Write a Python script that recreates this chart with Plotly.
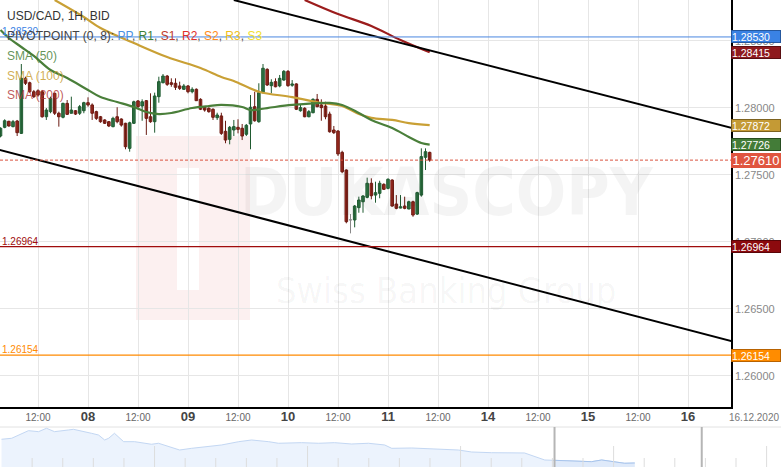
import plotly.graph_objects as go

FONT = "Liberation Sans, Arial, sans-serif"
W, H = 781, 467
PLOT_R = 731      # right edge of main plot (px)
PLOT_B = 407      # bottom edge of main plot (px)

# ---------------- data ----------------
# hourly candles, x = hours from 08.12.2020 00:00 (weekend removed)
hours = list(range(-21, 83))
opens = [1.27790, 1.27855, 1.27900, 1.27860, 1.27902, 1.27810, 1.28221, 1.28188, 1.28121, 1.28128,
         1.28121, 1.27934, 1.27972, 1.28109, 1.27960, 1.27930, 1.28034, 1.27960, 1.27979, 1.27960,
         1.27979, 1.28039, 1.28022, 1.27972, 1.27934, 1.27910, 1.27897, 1.27860, 1.27934, 1.27917,
         1.27885, 1.27698, 1.27885, 1.28052, 1.28014, 1.28054, 1.27934, 1.27897, 1.28084, 1.28188,
         1.28238, 1.28188, 1.28184, 1.28164, 1.28139, 1.28164, 1.28121, 1.28139, 1.28064, 1.28005,
         1.27997, 1.27990, 1.27927, 1.27940, 1.27825, 1.27765, 1.27835, 1.27855, 1.27848, 1.27803,
         1.27880, 1.28009, 1.27897, 1.28114, 1.28288, 1.28166, 1.28196, 1.28164, 1.28208, 1.28273,
         1.28169, 1.28179, 1.27979, 1.27997, 1.27934, 1.27964, 1.28064, 1.28022, 1.28014, 1.27954,
         1.27835, 1.27827, 1.27668, 1.27536, 1.27163, 1.27163, 1.27255, 1.27299, 1.27332, 1.27437,
         1.27349, 1.27362, 1.27429, 1.27399, 1.27461, 1.27282, 1.27252, 1.27267, 1.27245, 1.27299,
         1.27207, 1.27349, 1.27631, 1.27668]
highs = [1.27855, 1.27915, 1.27904, 1.27910, 1.27910, 1.28328, 1.28233, 1.28196, 1.28134, 1.28139,
         1.28134, 1.27999, 1.28084, 1.28114, 1.27972, 1.28039, 1.28059, 1.28084, 1.27984, 1.28022,
         1.28046, 1.28079, 1.28034, 1.27979, 1.27940, 1.27915, 1.27902, 1.27934, 1.28005, 1.27922,
         1.27889, 1.27897, 1.28054, 1.28059, 1.28064, 1.28059, 1.28109, 1.28114, 1.28233, 1.28253,
         1.28246, 1.28221, 1.28221, 1.28196, 1.28179, 1.28171, 1.28154, 1.28146, 1.28072, 1.28014,
         1.28005, 1.27997, 1.27964, 1.27964, 1.27904, 1.27865, 1.27910, 1.27915, 1.27880, 1.27880,
         1.28096, 1.28121, 1.28184, 1.28328, 1.28296, 1.28214, 1.28221, 1.28246, 1.28283, 1.28283,
         1.28208, 1.28184, 1.28022, 1.28005, 1.27984, 1.28072, 1.28104, 1.28064, 1.28046, 1.27972,
         1.27865, 1.27835, 1.27680, 1.27541, 1.27207, 1.27275, 1.27337, 1.27349, 1.27479, 1.27474,
         1.27449, 1.27456, 1.27437, 1.27474, 1.27467, 1.27349, 1.27349, 1.27337, 1.27307, 1.27307,
         1.27374, 1.27698, 1.27698, 1.27673]
lows = [1.27780, 1.27848, 1.27860, 1.27855, 1.27790, 1.27805, 1.28171, 1.28114, 1.28074, 1.28084,
        1.27927, 1.27910, 1.27960, 1.27947, 1.27860, 1.27922, 1.27947, 1.27960, 1.27947, 1.27947,
        1.27960, 1.28009, 1.27910, 1.27910, 1.27889, 1.27880, 1.27857, 1.27855, 1.27885, 1.27860,
        1.27691, 1.27673, 1.27880, 1.27990, 1.27904, 1.27798, 1.27889, 1.27815, 1.28039, 1.28184,
        1.28164, 1.28158, 1.28134, 1.28134, 1.28134, 1.28109, 1.28109, 1.28052, 1.27984, 1.27972,
        1.27964, 1.27910, 1.27910, 1.27798, 1.27736, 1.27728, 1.27790, 1.27810, 1.27760, 1.27790,
        1.27691, 1.27897, 1.27889, 1.28109, 1.28164, 1.28109, 1.28154, 1.28154, 1.28203, 1.28158,
        1.28158, 1.27984, 1.27972, 1.27930, 1.27930, 1.27960, 1.28005, 1.27904, 1.27915, 1.27815,
        1.27805, 1.27641, 1.27512, 1.27138, 1.27063, 1.27108, 1.27217, 1.27217, 1.27325, 1.27317,
        1.27292, 1.27325, 1.27387, 1.27392, 1.27262, 1.27243, 1.27250, 1.27243, 1.27243, 1.27187,
        1.27200, 1.27337, 1.27536, 1.27598]
closes = [1.27848, 1.27904, 1.27865, 1.27897, 1.27815, 1.28221, 1.28184, 1.28121, 1.28084, 1.28096,
          1.27934, 1.27984, 1.28072, 1.27960, 1.27934, 1.28034, 1.27952, 1.27984, 1.27954, 1.28009,
          1.28039, 1.28022, 1.27960, 1.27922, 1.27897, 1.27885, 1.27865, 1.27922, 1.27897, 1.27872,
          1.27710, 1.27889, 1.28046, 1.28009, 1.28046, 1.27922, 1.27897, 1.28089, 1.28196, 1.28238,
          1.28176, 1.28176, 1.28154, 1.28146, 1.28164, 1.28121, 1.28139, 1.28054, 1.27990, 1.27984,
          1.27972, 1.27930, 1.27947, 1.27810, 1.27760, 1.27855, 1.27860, 1.27840, 1.27790, 1.27870,
          1.28005, 1.27904, 1.28114, 1.28296, 1.28171, 1.28191, 1.28158, 1.28221, 1.28273, 1.28166,
          1.28179, 1.27990, 1.28002, 1.27934, 1.27972, 1.28064, 1.28009, 1.28002, 1.27934, 1.27822,
          1.27815, 1.27656, 1.27523, 1.27150, 1.27163, 1.27267, 1.27312, 1.27342, 1.27437, 1.27344,
          1.27367, 1.27437, 1.27392, 1.27467, 1.27267, 1.27250, 1.27262, 1.27250, 1.27299, 1.27200,
          1.27367, 1.27636, 1.27673, 1.27610]

sma50_t = [-21, -19, -16, -13, -9, -5, 0, 3, 7, 11, 14, 17, 20, 25, 29, 32, 37, 39, 43, 49,
           58, 61, 65, 68, 73, 77, 80, 82]
sma50_v = [1.28582, 1.28522, 1.28455, 1.28388, 1.28283, 1.28223, 1.28134, 1.28081, 1.28044, 1.28007,
           1.27969, 1.27954, 1.27962, 1.27999, 1.28014, 1.28022, 1.28007, 1.27984, 1.27999, 1.28022,
           1.28037, 1.28022, 1.27962, 1.27910, 1.27850, 1.27783, 1.27738, 1.27726]
sma100_t = [-8, -1, 3, 11, 19, 27, 32, 35, 41, 49, 56, 61, 65, 68, 73, 77, 82]
sma100_v = [1.28806, 1.28679, 1.28597, 1.28485, 1.28380, 1.28298, 1.28231, 1.28201, 1.28121, 1.28081,
            1.28037, 1.28014, 1.27954, 1.27925, 1.27910, 1.27887, 1.27872]
sma200_t = [52, 60, 68, 75, 82]
sma200_v = [1.28806, 1.28701, 1.28612, 1.28507, 1.28415]

channel_upper_t = [35, 155]
channel_upper_v = [1.28806, 1.27846]
channel_lower_t = [-22, 155]
channel_lower_v = [1.27693, 1.26253]

pivot_pp, pivot_s1, pivot_s2 = 1.28530, 1.26964, 1.26154
last_price = 1.27610

x_tickvals = [-12, 0, 12, 24, 36, 48, 60, 72, 84, 96, 108, 120, 132, 144]
x_ticklabels = ["12:00", "08", "12:00", "09", "12:00", "10", "12:00", "11",
                "12:00", "14", "12:00", "15", "12:00", "16"]
y_tickvals = [1.26, 1.265, 1.27, 1.275, 1.28, 1.285]
x_range = [-21.12, 154.32]
y_range = [1.25766, 1.28806]

# navigator (longer history), x in weeks
nav_x = [0.0, 0.33, 0.88, 1.21, 1.47, 1.73, 2.19, 2.35, 2.94, 3.17, 3.37, 3.50, 3.69, 3.99, 4.35,
         4.90, 5.13, 5.46, 5.82, 6.21, 6.76, 7.19, 7.75, 8.17, 8.73, 9.05, 9.80, 10.36, 10.88,
         11.44, 11.99, 12.52, 12.75, 13.40, 14.93, 15.36, 16.01, 17.09, 17.75, 18.07, 18.79,
         19.28, 19.61, 19.93, 20.36, 20.69]
nav_v = [1.3194, 1.3212, 1.3351, 1.3333, 1.3395, 1.3333, 1.3364, 1.3376, 1.3303, 1.3272, 1.3181,
         1.3212, 1.3303, 1.3150, 1.3150, 1.3103, 1.3121, 1.3059, 1.2998, 1.3029, 1.3059, 1.3090,
         1.3150, 1.3181, 1.3150, 1.3121, 1.3132, 1.3121, 1.3132, 1.3108, 1.3121, 1.3090, 1.3029,
         1.3035, 1.2998, 1.2962, 1.2949, 1.2944, 1.2816, 1.2810, 1.2798, 1.2785, 1.2816, 1.2785,
         1.2756, 1.2761]
nav_window = [18.07, 22.88]
nav_x_range = [-0.05, 25.47]
nav_y_range = [1.2688, 1.3418]

# ---------------- figure ----------------
fig = go.Figure()

UP_FILL, UP_LINE = "#3f8a57", "#1f5a30"
DN_FILL, DN_LINE = "#c8392b", "#6a1a12"

def wick_xy(idx):
    xs, ys = [], []
    for i in idx:
        xs += [hours[i], hours[i], None]
        ys += [lows[i], highs[i], None]
    return xs, ys

up = [i for i in range(len(hours)) if closes[i] > opens[i]]
dn = [i for i in range(len(hours)) if closes[i] < opens[i]]
flat = [i for i in range(len(hours)) if closes[i] == opens[i]]

for idx, col in ((up, UP_LINE), (dn, DN_LINE), (flat, "#888888")):
    xs, ys = wick_xy(idx)
    fig.add_trace(go.Scatter(x=xs, y=ys, mode="lines", line=dict(color=col, width=1),
                             hoverinfo="skip", showlegend=False))

MIN_BODY = 0.000012
for idx, fill, line in ((up, UP_FILL, UP_LINE), (dn, DN_FILL, DN_LINE), (flat, "#888888", "#888888")):
    fig.add_trace(go.Bar(
        x=[hours[i] for i in idx],
        base=[min(opens[i], closes[i]) for i in idx],
        y=[max(abs(closes[i] - opens[i]), MIN_BODY) for i in idx],
        width=0.62,
        marker=dict(color=fill, line=dict(color=line, width=1)),
        showlegend=False, hoverinfo="skip"))

fig.add_trace(go.Scatter(x=sma200_t, y=sma200_v, mode="lines",
                         line=dict(color="#9b1c1c", width=2.2, shape="spline"), showlegend=False))
fig.add_trace(go.Scatter(x=sma100_t, y=sma100_v, mode="lines",
                         line=dict(color="#c9a035", width=2.2, shape="spline"), showlegend=False))
fig.add_trace(go.Scatter(x=sma50_t, y=sma50_v, mode="lines",
                         line=dict(color="#4a7f3a", width=2.2, shape="spline"), showlegend=False))

for t, v in ((channel_upper_t, channel_upper_v), (channel_lower_t, channel_lower_v)):
    fig.add_trace(go.Scatter(x=t, y=v, mode="lines", line=dict(color="black", width=2),
                             showlegend=False, hoverinfo="skip"))

# navigator
fig.add_trace(go.Scatter(x=nav_x, y=nav_v, xaxis="x2", yaxis="y2", mode="lines",
                         fill="tozeroy", fillcolor="#ecf3fd", line=dict(color="#c3d7f3", width=1),
                         showlegend=False, hoverinfo="skip"))
win_x = [x for x in nav_x if x >= nav_window[0]]
win_v = [v for x, v in zip(nav_x, nav_v) if x >= nav_window[0]]
fig.add_trace(go.Scatter(x=win_x, y=win_v, xaxis="x2", yaxis="y2", mode="lines",
                         fill="tozeroy", fillcolor="#dfeafa", line=dict(color="#a7c4ec", width=1),
                         showlegend=False, hoverinfo="skip"))

# horizontal levels
for lvl, col, dash, w in ((pivot_pp, "#4a86e0", "solid", 1), (pivot_s1, "#a00c0c", "solid", 1.3),
                          (pivot_s2, "#ff8a00", "solid", 1.3), (last_price, "#d9533f", "dash", 1)):
    fig.add_shape(type="line", xref="x domain", yref="y", x0=0, x1=1, y0=lvl, y1=lvl,
                  line=dict(color=col, width=w, dash="3px,2px" if dash == "dash" else "solid"),
                  layer="above")

# watermark logo (very light, below grid)
def px2paper_x(px):
    return px / W

def px2paper_y(py):
    return 1 - py / H

fig.add_shape(type="rect", xref="paper", yref="paper", x0=px2paper_x(136), x1=px2paper_x(250),
              y0=px2paper_y(320), y1=px2paper_y(136), fillcolor="#fcf0f0", line_width=0, layer="below")
fig.add_shape(type="rect", xref="paper", yref="paper", x0=px2paper_x(177), x1=px2paper_x(199),
              y0=px2paper_y(290), y1=px2paper_y(168), fillcolor="white", line_width=0, layer="below")

fig.add_annotation(xref="paper", yref="paper", x=px2paper_x(447), y=px2paper_y(192),
                   text="<b>DUKASCOPY</b>", showarrow=False,
                   font=dict(family="Liberation Sans Narrow, DejaVu Sans Condensed, sans-serif",
                             size=66, color="rgba(0,0,0,0.045)"))
fig.add_annotation(xref="paper", yref="paper", x=px2paper_x(446), y=px2paper_y(290),
                   text="Swiss Banking Group", showarrow=False,
                   font=dict(family="Liberation Sans Narrow, DejaVu Sans Condensed, sans-serif",
                             size=36, color="rgba(0,0,0,0.045)"))

# navigator decorations
nav_top = 40 / H
fig.add_shape(type="line", xref="paper", yref="paper", x0=0, x1=1, y0=nav_top, y1=nav_top,
              line=dict(color="#e2e2e2", width=1))
for k in range(1, 26):
    tall = k % 5 == 0
    fig.add_shape(type="line", xref="x2", yref="paper", x0=k, x1=k, y0=0,
                  y1=(21 if tall else 9) / H, line=dict(color="#dddddd", width=1))
for xw in nav_window:
    fig.add_shape(type="line", xref="x2", yref="paper", x0=xw, x1=xw, y0=0, y1=nav_top,
                  line=dict(color="#b5b5b5", width=2))

# right-side value labels
boxes = [(pivot_pp, "#3a82e4", "#25589e", 10.5), (1.28415, "#8e1a1e", "#5a0f12", 10.5),
         (1.27872, "#c49a35", "#7d6220", 10.5), (1.27726, "#437c38", "#274d20", 10.5),
         (pivot_s1, "#8c0a0e", "#5a0508", 10.5), (pivot_s2, "#ff8c00", "#b86200", 10.5)]
for val, bg, bd, fs in boxes:
    fig.add_annotation(xref="paper", x=PLOT_R / W, xanchor="left", yref="y", y=val,
                       text=f"{val:.5f}", showarrow=False, bgcolor=bg, bordercolor=bd,
                       borderwidth=1, borderpad=0, width=48, height=11, align="left",
                       font=dict(family=FONT, size=fs, color="white"))
fig.add_annotation(xref="paper", x=PLOT_R / W, xanchor="left", yref="y", y=last_price,
                   text=f"{last_price:.5f}", showarrow=False, bgcolor="#e0553f",
                   borderwidth=0, borderpad=0, width=50, height=15, align="center",
                   font=dict(family=FONT, size=13, color="white"))

# left small level labels
for val, col in ((pivot_pp, "#3a82e4"), (pivot_s1, "#a00c0c"), (pivot_s2, "#ff8a00")):
    fig.add_annotation(xref="paper", x=0, xanchor="left", yref="y", y=val, yanchor="bottom",
                       text=f"{val:.5f}", showarrow=False, yshift=-2,
                       font=dict(family=FONT, size=10, color=col))

# legend texts
sep = '<span style="color:#555">, </span>'
pivot_txt = ('<span style="color:#444">PIVOTPOINT (0, 8): </span>'
             '<span style="color:#4a90e2">PP</span>' + sep +
             '<span style="color:#3d7f35">R1</span>' + sep +
             '<span style="color:#c0392b">S1</span>' + sep +
             '<span style="color:#e0302a">R2</span>' + sep +
             '<span style="color:#ff8c1a">S2</span>' + sep +
             '<span style="color:#f0c020">R3</span>' + sep +
             '<span style="color:#f2e030">S3</span>')
legend_lines = [("USD/CAD, 1H, BID", "#333333", 16), (pivot_txt, "#444444", 36),
                ("SMA (50)", "rgba(74,127,58,0.85)", 56), ("SMA (100)", "rgba(201,160,53,0.85)", 76),
                ("SMA (200)", "rgba(176,50,50,0.8)", 95)]
for txt, col, py in legend_lines:
    fig.add_annotation(xref="paper", yref="paper", x=5 / W, y=px2paper_y(py), xanchor="left",
                       yanchor="middle", text=txt, showarrow=False,
                       font=dict(family=FONT, size=12, color=col))

fig.add_annotation(xref="paper", yref="paper", x=1, xanchor="right", y=px2paper_y(417),
                   yanchor="middle", text="16.12.2020", showarrow=False,
                   font=dict(family=FONT, size=10, color="#777"))

x_ticktext = [t if ":" in t else f'<span style="font-size:13px;fill:#444"><b>{t}</b></span>'
              for t in x_ticklabels]

fig.update_layout(
    width=W, height=H, margin=dict(l=0, r=0, t=0, b=0),
    paper_bgcolor="white", plot_bgcolor="white",
    barmode="overlay", showlegend=False, font=dict(family=FONT),
    xaxis=dict(domain=[0, PLOT_R / W], range=x_range, tickvals=x_tickvals, ticktext=x_ticktext,
               showgrid=True, gridcolor="#e6e6e6", gridwidth=1, zeroline=False,
               showline=True, linecolor="black", linewidth=1.5, ticks="",
               tickfont=dict(size=10, color="#666"), fixedrange=True),
    yaxis=dict(domain=[1 - PLOT_B / H, 1], range=y_range, side="right", tickvals=y_tickvals,
               ticktext=[f"{v:.5f}" for v in y_tickvals], showgrid=True, gridcolor="#e6e6e6",
               zeroline=False, showline=True, linecolor="black", linewidth=1.5, ticks="",
               tickfont=dict(size=11, color="#888")),
    xaxis2=dict(domain=[0, 1], range=nav_x_range, anchor="y2", visible=False),
    yaxis2=dict(domain=[0, nav_top], range=nav_y_range, anchor="x2", visible=False),
)

fig.write_html("out.html", config={"displayModeBar": False},
               post_script="document.body.style.margin='0';document.body.style.padding='0';"
                           "document.documentElement.style.overflow='hidden';")
